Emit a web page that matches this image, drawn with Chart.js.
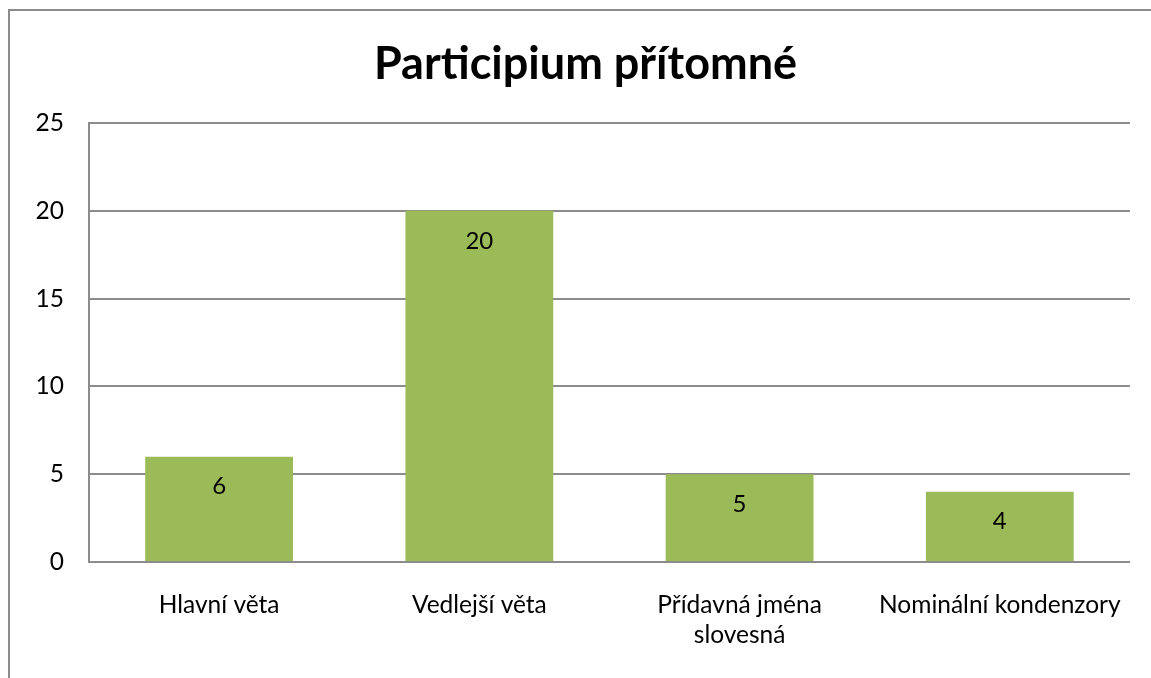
<!DOCTYPE html>
<html>
<head>
<meta charset="utf-8">
<script src="https://cdn.jsdelivr.net/npm/chart.js@4"></script>
<style>
body { margin: 0; background: #fff; }
#frame { position: absolute; left: 8px; top: 9px; width: 1141px; height: 667px;
  border-left: 2px solid #8c8c8c; border-top: 2px solid #8c8c8c; }
</style>
</head>
<body>
<div id="frame"><canvas id="barChart" width="1141" height="667"></canvas></div>
<script>
var categories = ["Hlavní věta", "Vedlejší věta", ["Přídavná jména", "slovesná"], "Nominální kondenzory"];
var values = [6, 20, 5, 4];
var yTicks = [0, 5, 10, 15, 20, 25];

var fontFamily = "Lato, 'Liberation Sans', sans-serif";

// value labels inside the bars, near the top
var valueLabels = {
  id: 'valueLabels',
  afterDatasetsDraw: function(chart) {
    var ctx = chart.ctx;
    var meta = chart.getDatasetMeta(0);
    ctx.save();
    ctx.font = "24px " + fontFamily;
    ctx.fillStyle = "#000";
    ctx.textAlign = "center";
    ctx.textBaseline = "middle";
    meta.data.forEach(function(bar, i) {
      ctx.fillText(values[i], bar.x, bar.y + 30);
    });
    ctx.restore();
  }
};

var ctxB = document.getElementById("barChart").getContext('2d');
var myBarChart = new Chart(ctxB, {
  type: 'bar',
  data: {
    labels: categories,
    datasets: [{
      label: "Participium přítomné",
      data: values,
      backgroundColor: "#9bbb59",
      borderWidth: 0,
      barPercentage: 0.568,
      categoryPercentage: 1
    }]
  },
  options: {
    responsive: false,
    animation: false,
    layout: { padding: { left: 10, right: 0, top: 0, bottom: 0 } },
    plugins: {
      legend: { display: false },
      tooltip: { enabled: false },
      title: {
        display: true,
        text: "Participium přítomné",
        color: "#000",
        font: { family: fontFamily, size: 45, weight: 'bold' },
        padding: { top: 26, bottom: 32 }
      }
    },
    scales: {
      x: {
        grid: { display: false, drawTicks: false },
        border: { display: true, color: "#8c8c8c", width: 2 },
        ticks: {
          color: "#000",
          padding: 28,
          maxRotation: 0,
          autoSkip: false,
          font: { family: fontFamily, size: 24.5, lineHeight: 30 / 24.5 }
        }
      },
      y: {
        min: 0,
        max: 25,
        afterBuildTicks: function(axis) {
          axis.ticks = yTicks.map(function(v) { return { value: v }; });
        },
        afterFit: function(axis) { axis.width = 69; },
        grid: { color: "#8c8c8c", lineWidth: 2, drawTicks: false },
        border: { display: true, color: "#8c8c8c", width: 2 },
        ticks: {
          color: "#000",
          padding: 25,
          font: { family: fontFamily, size: 24.5 }
        }
      },
      // empty right margin so the title stays centred over the whole frame
      yRight: {
        position: 'right',
        min: 0,
        max: 25,
        afterFit: function(axis) { axis.width = 19; },
        grid: { display: false, drawTicks: false },
        border: { display: false },
        ticks: { display: false }
      }
    }
  },
  plugins: [valueLabels]
});
</script>
</body>
</html>
